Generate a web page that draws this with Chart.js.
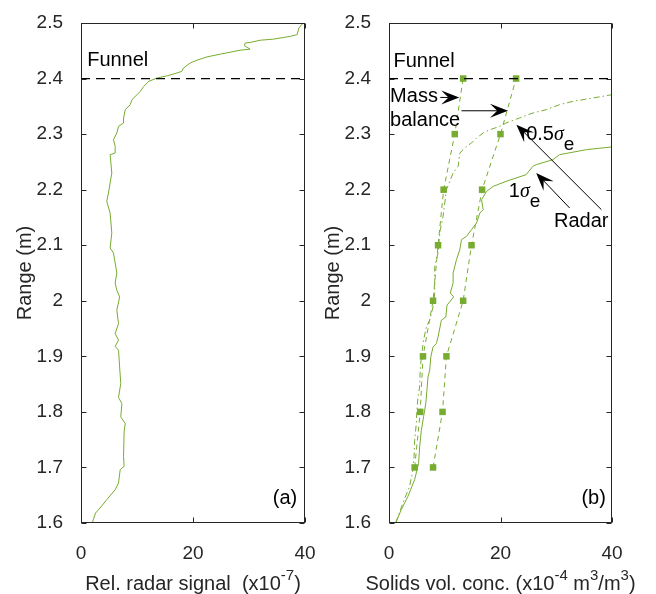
<!DOCTYPE html>
<html>
<head>
<meta charset="utf-8">
<script src="https://cdn.jsdelivr.net/npm/chart.js@4"></script>
<style>
  html, body { margin: 0; padding: 0; background: #fff; }
  #wrap { position: relative; width: 656px; height: 594px; }
  #wrap canvas { position: absolute; left: 0; top: 0; }
</style>
</head>
<body>
<div id="wrap">
  <canvas id="chartA" width="656" height="594"></canvas>
  <canvas id="chartB" width="656" height="594"></canvas>
</div>
<script>
const green = '#77ac30';
const ink = '#262626';
const sans = '"Liberation Sans", Arial, Helvetica, sans-serif';

// ticks shared by both panels
const rangeTicks = [1.6, 1.7, 1.8, 1.9, 2.0, 2.1, 2.2, 2.3, 2.4, 2.5];
const xTicks = [0, 20, 40];
const funnelRange = 2.4;

// (a) relative radar signal vs range
const radarRange = [1.600, 1.618, 1.627, 1.642, 1.660, 1.672, 1.696, 1.702, 1.720, 1.764,
  1.779, 1.791, 1.815, 1.826, 1.851, 1.881, 1.911, 1.918, 1.929, 1.941,
  1.959, 1.983, 2.007, 2.019, 2.032, 2.050, 2.086, 2.095, 2.122, 2.158,
  2.179, 2.194, 2.230, 2.263, 2.266, 2.278, 2.290, 2.302, 2.314, 2.320,
  2.329, 2.344, 2.353, 2.362, 2.377, 2.386, 2.395, 2.401, 2.405, 2.409,
  2.413, 2.419, 2.428, 2.433, 2.439, 2.444, 2.451, 2.453, 2.459, 2.464,
  2.465, 2.469, 2.471, 2.476, 2.479, 2.491, 2.499];
const radarSignal = [2.0, 2.6, 3.4, 4.6, 6.1, 6.7, 7.0, 7.7, 7.6, 7.7,
  7.9, 7.1, 7.3, 6.7, 7.1, 6.9, 6.7, 6.1, 6.7, 6.1,
  6.7, 6.4, 6.9, 6.4, 6.1, 6.4, 5.8, 5.2, 5.5, 5.2,
  4.6, 4.9, 5.5, 5.2, 6.1, 6.1, 5.8, 6.4, 6.7, 7.6,
  7.6, 7.9, 8.8, 9.1, 10.6, 11.2, 12.1, 13.6, 15.4, 16.8,
  18.0, 18.3, 19.5, 20.7, 22.5, 24.9, 28.4, 30.2, 29.2, 29.3,
  30.2, 32.0, 34.4, 37.4, 38.6, 38.9, 39.6];

// (b) mass balance bounds
const massRange = [1.7, 1.8, 1.9, 2.0, 2.1, 2.2, 2.3, 2.4];
const massLow = [4.6, 5.6, 6.1, 7.9, 8.8, 9.8, 11.8, 13.3];
const massHigh = [7.9, 9.6, 10.3, 13.3, 14.8, 16.7, 20.0, 22.8];

// (b) radar estimate, 1 sigma_e
const sigma1Range = [1.600, 1.624, 1.648, 1.678, 1.707, 1.737, 1.767, 1.791, 1.815, 1.839,
  1.863, 1.875, 1.899, 1.917, 1.923, 1.935, 1.965, 1.971, 1.992, 2.007,
  2.014, 2.032, 2.050, 2.074, 2.092, 2.110, 2.116, 2.128, 2.140, 2.158,
  2.164, 2.182, 2.197, 2.206, 2.215, 2.227, 2.242, 2.245, 2.254, 2.263,
  2.272, 2.277];
const sigma1Conc = [1.2, 2.2, 3.4, 4.6, 5.3, 5.5, 5.8, 6.2, 6.6, 6.8,
  7.0, 7.3, 7.5, 7.9, 8.5, 8.8, 9.4, 10.2, 10.4, 11.6,
  11.0, 11.5, 11.5, 12.1, 12.7, 13.0, 13.9, 14.8, 15.7, 16.3,
  16.9, 16.6, 17.5, 18.7, 21.0, 24.6, 25.8, 26.4, 29.4, 30.6,
  35.4, 40.0];

// (b) radar estimate, 0.5 sigma_e
const sigma05Range = [1.600, 1.636, 1.666, 1.696, 1.720, 1.749, 1.779, 1.803, 1.827, 1.845,
  1.875, 1.899, 1.929, 1.953, 1.965, 1.989, 2.013, 2.038, 2.062, 2.086,
  2.110, 2.128, 2.152, 2.176, 2.200, 2.215, 2.230, 2.242, 2.266, 2.278,
  2.284, 2.293, 2.302, 2.308, 2.314, 2.320, 2.329, 2.338, 2.344, 2.353,
  2.359, 2.365, 2.371];
const sigma05Conc = [1.2, 2.5, 3.7, 4.3, 4.5, 4.6, 4.9, 5.0, 5.2, 5.5,
  5.6, 5.8, 6.2, 6.7, 7.3, 7.9, 8.2, 8.2, 8.2, 8.8,
  9.0, 9.2, 9.7, 10.0, 10.3, 10.9, 11.5, 12.4, 12.7, 13.9,
  14.8, 15.7, 16.9, 18.1, 19.9, 21.0, 23.4, 25.8, 28.2, 30.6,
  33.0, 36.6, 40.0];

function pts(xs, ys) {
    return xs.map((x, i) => ({x: x, y: ys[i]}));
}

// text labels and arrows, in data units
const notesA = [
    {parts: [{t: 'Funnel'}], x: 1.1, y: 2.432},
    {parts: [{t: '(a)'}], x: 38.6, y: 1.645, align: 'right'}
];
const notesB = [
    {parts: [{t: 'Funnel'}], x: 0.8, y: 2.431},
    {parts: [{t: 'Mass'}], x: 0.2, y: 2.367},
    {parts: [{t: 'balance'}], x: 0.2, y: 2.324},
    {parts: [{t: '0.5'}, {t: 'σ', it: true}, {t: 'e', sub: true}], x: 24.6, y: 2.299},
    {parts: [{t: '1'}, {t: 'σ', it: true}, {t: 'e', sub: true}], x: 21.5, y: 2.197},
    {parts: [{t: 'Radar'}], x: 29.6, y: 2.143},
    {parts: [{t: '(b)'}], x: 38.9, y: 1.645, align: 'right'}
];
const arrowsB = [
    {from: [9.2, 2.366], to: [12.6, 2.366]},
    {from: [13.0, 2.342], to: [21.35, 2.342]},
    {from: [38.1, 2.164], to: [22.85, 2.317]},
    {from: [32.4, 2.167], to: [26.4, 2.23]}
];
const titleA = [{t: 'Rel. radar signal  (x10'}, {t: '-7', sup: true}, {t: ')'}];
const titleB = [{t: 'Solids vol. conc. (x10'}, {t: '-4', sup: true}, {t: ' m'}, {t: '3', sup: true},
    {t: '/m'}, {t: '3', sup: true}, {t: ')'}];

function partFont(p) {
    if (p.it) return 'italic 20px "Liberation Serif", "DejaVu Serif", serif';
    if (p.sup) return '15px ' + sans;
    if (p.sub) return '19px ' + sans;
    return '20px ' + sans;
}

function drawRich(ctx, parts, x, y, align) {
    let widths = parts.map(p => { ctx.font = partFont(p); return ctx.measureText(p.t).width; });
    let total = widths.reduce((a, b) => a + b, 0);
    let cx = x;
    if (align === 'center') cx = x - total / 2;
    if (align === 'right') cx = x - total;
    ctx.textAlign = 'left';
    parts.forEach((p, i) => {
        ctx.font = partFont(p);
        let dy = p.sup ? -10 : (p.sub ? 10 : 0);
        ctx.fillText(p.t, cx, y + dy);
        cx += widths[i];
    });
}

function drawArrow(ctx, x1, y1, x2, y2) {
    let len = Math.hypot(x2 - x1, y2 - y1);
    let ux = (x2 - x1) / len, uy = (y2 - y1) / len;
    let nx = -uy, ny = ux;
    let L = 18, W = 14;
    let bx = x2 - ux * L, by = y2 - uy * L;
    let kx = x2 - ux * L * 0.6, ky = y2 - uy * L * 0.6;
    ctx.beginPath();
    ctx.moveTo(x1, y1);
    ctx.lineTo(kx, ky);
    ctx.stroke();
    ctx.beginPath();
    ctx.moveTo(x2, y2);
    ctx.lineTo(bx + nx * W / 2, by + ny * W / 2);
    ctx.lineTo(kx, ky);
    ctx.lineTo(bx - nx * W / 2, by - ny * W / 2);
    ctx.closePath();
    ctx.fill();
}

// matlab style box, inner ticks, x title and notes
const matlabBox = {
    id: 'matlabBox',
    afterDatasetsDraw(chart, args, opts) {
        const ctx = chart.ctx;
        const a = chart.chartArea;
        const sx = chart.scales.x, sy = chart.scales.y;
        ctx.save();
        ctx.strokeStyle = ink;
        ctx.lineWidth = 1;
        let l = Math.round(a.left) + 0.5, r = Math.round(a.right) - 0.5;
        let t = Math.round(a.top) + 0.5, b = Math.round(a.bottom) - 0.5;
        ctx.strokeRect(l, t, r - l, b - t);
        ctx.beginPath();
        rangeTicks.forEach(v => {
            let y = Math.round(sy.getPixelForValue(v)) + 0.5;
            ctx.moveTo(l, y); ctx.lineTo(l + 5, y);
            ctx.moveTo(r, y); ctx.lineTo(r - 5, y);
        });
        xTicks.forEach(v => {
            let x = Math.round(sx.getPixelForValue(v)) + 0.5;
            ctx.moveTo(x, b); ctx.lineTo(x, b - 5);
            ctx.moveTo(x, t); ctx.lineTo(x, t + 5);
        });
        ctx.stroke();

        ctx.fillStyle = ink;
        ctx.textBaseline = 'alphabetic';
        drawRich(ctx, opts.title, (a.left + a.right) / 2, 590, 'center');

        ctx.fillStyle = '#000';
        ctx.strokeStyle = '#000';
        ctx.textBaseline = 'middle';
        opts.notes.forEach(n => {
            drawRich(ctx, n.parts, sx.getPixelForValue(n.x), sy.getPixelForValue(n.y), n.align || 'left');
        });
        (opts.arrows || []).forEach(ar => {
            drawArrow(ctx, sx.getPixelForValue(ar.from[0]), sy.getPixelForValue(ar.from[1]),
                sx.getPixelForValue(ar.to[0]), sy.getPixelForValue(ar.to[1]));
        });
        ctx.restore();
    }
};

function makeScales(yWidth, yTitlePad) {
    return {
        x: {
            type: 'linear', min: 0, max: 40,
            grid: {display: false}, border: {display: false},
            afterBuildTicks: s => { s.ticks = xTicks.map(v => ({value: v})); },
            afterFit: s => { s.height = 71; },
            ticks: {color: ink, font: {size: 19}, padding: 11, maxRotation: 0, autoSkip: false}
        },
        y: {
            type: 'linear', min: 1.6, max: 2.5,
            grid: {display: false}, border: {display: false},
            afterBuildTicks: s => { s.ticks = rangeTicks.map(v => ({value: v})); },
            afterFit: s => { s.width = yWidth; },
            ticks: {color: ink, font: {size: 19}, padding: 10, autoSkip: false,
                callback: v => String(+v.toFixed(1))},
            title: {display: true, text: 'Range (m)', color: ink, font: {size: 20},
                padding: {top: yTitlePad, bottom: 0}}
        }
    };
}

function funnelSet() {
    return {data: pts([xTicks[0], xTicks[2]], [funnelRange, funnelRange]),
        showLine: true, borderColor: '#000', borderWidth: 1.3, borderDash: [9, 6], pointRadius: 0};
}

Chart.defaults.font.family = sans;
Chart.defaults.animation = false;

let chartA = new Chart(document.getElementById('chartA'), {
    type: 'scatter',
    data: {
        datasets: [
            funnelSet(),
            {data: pts(radarSignal, radarRange), showLine: true, borderColor: green, borderWidth: 1, pointRadius: 0}
        ]
    },
    options: {
        responsive: false,
        layout: {padding: {left: 0, right: 351, top: 23, bottom: 0}},
        scales: makeScales(81, 13),
        plugins: {
            legend: {display: false}, tooltip: {enabled: false},
            matlabBox: {title: titleA, notes: notesA}
        }
    },
    plugins: [matlabBox]
});

let chartB = new Chart(document.getElementById('chartB'), {
    type: 'scatter',
    data: {
        datasets: [
            funnelSet(),
            {data: pts(massLow, massRange), showLine: true, borderColor: green, borderWidth: 1,
                borderDash: [5, 4], pointStyle: 'rect', pointRadius: 4.6, pointBorderWidth: 0,
                pointBackgroundColor: green},
            {data: pts(massHigh, massRange), showLine: true, borderColor: green, borderWidth: 1,
                borderDash: [5, 4], pointStyle: 'rect', pointRadius: 4.6, pointBorderWidth: 0,
                pointBackgroundColor: green},
            {data: pts(sigma1Conc, sigma1Range), showLine: true, borderColor: green, borderWidth: 1, pointRadius: 0},
            {data: pts(sigma05Conc, sigma05Range), showLine: true, borderColor: green, borderWidth: 1,
                borderDash: [6, 3, 1.5, 3], pointRadius: 0}
        ]
    },
    options: {
        responsive: false,
        layout: {padding: {left: 321, right: 44, top: 23, bottom: 0}},
        scales: makeScales(68, 0),
        plugins: {
            legend: {display: false}, tooltip: {enabled: false},
            matlabBox: {title: titleB, notes: notesB, arrows: arrowsB}
        }
    },
    plugins: [matlabBox]
});
</script>
</body>
</html>
